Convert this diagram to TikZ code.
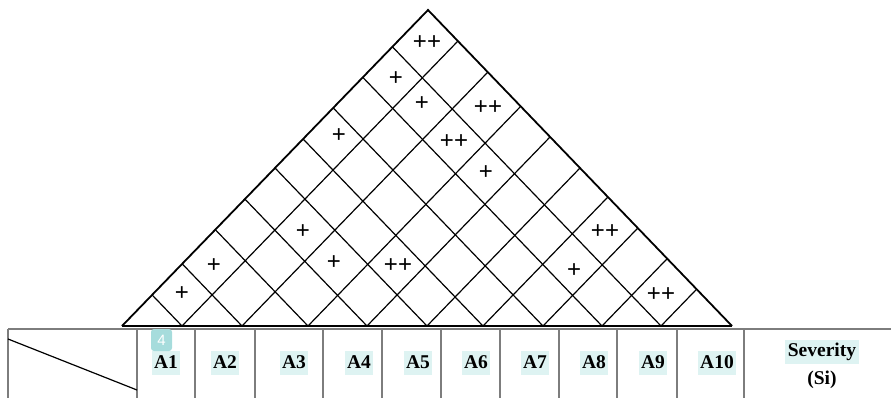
\documentclass[tikz,border=0pt]{standalone}
\usepackage{fontspec}
\setmainfont{Liberation Serif}
\newfontfamily\plusfont{Liberation Sans}
\usetikzlibrary{calc}
\definecolor{hl}{RGB}{222,243,242}
\definecolor{badgecol}{RGB}{166,220,220}
\definecolor{tabline}{RGB}{125,125,125}
\tikzset{
  roof/.style={line width=1.8pt, line join=miter},
  gridline/.style={line width=1.2pt},
  tab/.style={draw=tabline, line width=1.1pt},
  relmark/.style={font=\plusfont\fontsize{24}{24}\selectfont, inner sep=0pt},
  collabel/.style={fill=hl, font=\bfseries\fontsize{19.5}{22}\selectfont,
    inner xsep=2.5pt, inner ysep=3pt, text height=14pt, text depth=4pt},
  plainlabel/.style={font=\bfseries\fontsize{19.5}{22}\selectfont,
    inner xsep=2.5pt, inner ysep=3pt, text height=14pt, text depth=4pt},
}
\begin{document}
\begin{tikzpicture}[x=1pt,y=-1pt]
\useasboundingbox (0,0) rectangle (891,398);
% table
\coordinate (tl) at (8,329);
\coordinate (tr) at (891,329);
\draw[tab] (tl) -- (tr);
\draw[tab] (tl) -- (8,398);
\foreach \c in {137,195,255,323,382,441,500,559,617,677,744}
  \draw[tab] (\c,329) -- (\c,398);
\coordinate (d1) at (8,339);
\coordinate (d2) at (137,390);
\draw[line width=1.2pt] (d1) -- (d2);
% labels
\node[collabel] (a1) at (166,363) {A1};
\node[collabel] (a2) at (225,363) {A2};
\node[collabel] (a3) at (294,363) {A3};
\node[collabel] (a4) at (359,363) {A4};
\node[collabel] (a5) at (418,363) {A5};
\node[collabel] (a6) at (476,363) {A6};
\node[collabel] (a7) at (535,363) {A7};
\node[collabel] (a8) at (594,363) {A8};
\node[collabel] (a9) at (653,363) {A9};
\node[collabel] (a10) at (717,363) {A10};
\node[collabel] (sev) at (822,351.5) {Severity};
\node[plainlabel] (si) at (822,379) {(Si)};
\node[fill=badgecol, rounded corners=3pt, minimum width=21pt, minimum height=22pt,
  inner sep=0pt, text=white, font=\plusfont\fontsize{15}{15}\selectfont] (badge) at (161.5,340) {4};
% roof
\coordinate (L) at (122,326);
\coordinate (R) at (732,326);
\coordinate (T) at (428,10);
\foreach \p in {182,242,308,367,427,483,543,602,661}{
  \pgfmathsetmacro\f{(\p-122)/610}
  \pgfmathsetmacro\g{1-\f}
  \draw[gridline] (\p,326) -- ($(R)!\g!(T)$);
  \draw[gridline] (\p,326) -- ($(L)!\f!(T)$);
}
\draw[roof] (L) -- (T) -- (R);
\draw[line width=2.4pt] (L) -- (R);
% correlation marks
\node[relmark] (m1) at (427,43) {++};
\node[relmark] (m2) at (396,79) {+};
\node[relmark] (m3) at (422,104) {+};
\node[relmark] (m4) at (488,108) {++};
\node[relmark] (m5) at (339,136) {+};
\node[relmark] (m6) at (454,142) {++};
\node[relmark] (m7) at (486,173) {+};
\node[relmark] (m8) at (303,232) {+};
\node[relmark] (m9) at (605,232) {++};
\node[relmark] (m10) at (214,266) {+};
\node[relmark] (m11) at (334,263) {+};
\node[relmark] (m12) at (398,266) {++};
\node[relmark] (m13) at (574,271) {+};
\node[relmark] (m14) at (182,294) {+};
\node[relmark] (m15) at (661,295) {++};
\end{tikzpicture}
\end{document}
